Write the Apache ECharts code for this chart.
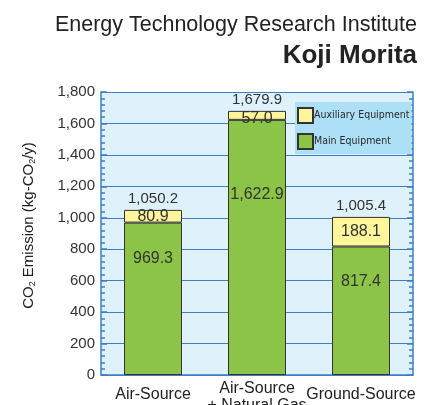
<!DOCTYPE html>
<html><head><meta charset="utf-8">
<script src="https://cdn.jsdelivr.net/npm/echarts@6/dist/echarts.min.js"></script>
<style>html,body{margin:0;padding:0;background:#fff}#c{width:435px;height:405px}</style>
</head><body><div id="c"></div>
<script>
const categories = ['Air-Source', 'Air-Source\n+ Natural Gas', 'Ground-Source'];
const mainEquipment = [969.3, 1622.9, 817.4];
const auxiliaryEquipment = [80.9, 57.0, 188.1];
const totals = [1050.2, 1679.9, 1005.4];
const yTicks = [0, 200, 400, 600, 800, 1000, 1200, 1400, 1600, 1800];

const fmt = v => v.toLocaleString('en-US', {minimumFractionDigits: 1, maximumFractionDigits: 1});
const fmtInt = v => v.toLocaleString('en-US');
const mainLabelDist = [28, 67, 27];
const auxLabelOffset = [[0, 0], [0, 3], [0, 0]];

const chart = echarts.init(document.getElementById('c'));
const blue = '#3d7fc4';
const font = 'Liberation Sans, Arial, sans-serif';
chart.setOption({
  animation: false,
  title: [
    {text: 'Energy Technology Research Institute', right: 13, top: 9,
     textStyle: {fontFamily: font, fontSize: 21.5, fontWeight: 'normal', color: '#222'}},
    {text: 'Koji Morita', right: 13, top: 38,
     textStyle: {fontFamily: font, fontSize: 26, fontWeight: 'bold', color: '#222'}}
  ],
  grid: {left: 101, right: 22, top: 92, bottom: 30, backgroundColor: '#dff1fa', show: true, borderWidth: 0,
         outerBoundsMode: 'none', containLabel: false},
  legend: {
    orient: 'vertical', left: 295, top: 102, itemWidth: 15, itemHeight: 15, itemGap: 9, icon: 'rect',
    backgroundColor: '#ade0f7', padding: [5, 2, 4, 2],
    data: ['Auxiliary Equipment', 'Main Equipment'],
    textStyle: {fontFamily: 'DejaVu Sans Condensed, sans-serif', fontSize: 10.5, color: '#2a2a2a', padding: [0, 0, 0, -4]}
  },
  xAxis: {
    type: 'category', data: categories,
    axisLine: {lineStyle: {color: blue, width: 1.5}},
    axisTick: {show: false},
    axisLabel: {interval: 0, fontFamily: font, fontSize: 16, color: '#222', margin: 5, lineHeight: 17,
      formatter: v => v.indexOf('\n') >= 0 ? v : '{s|' + v + '}',
      rich: {s: {fontFamily: font, fontSize: 16, color: '#222', lineHeight: 29}}}
  },
  yAxis: [
    {type: 'value', min: 0, max: 1800, interval: 200,
     name: '{a|CO}{s|2}{a| Emission (kg-CO}{s|2}{a|/y)}', nameLocation: 'middle', nameGap: 64, nameRotate: 90,
     nameTextStyle: {padding: [0, 0, 0, 16], rich: {a: {fontFamily: font, fontSize: 15, color: '#222'}, s: {fontFamily: font, fontSize: 9, color: '#222', padding: [8, 0, 0, 0]}}},
     axisLine: {show: true, lineStyle: {color: blue, width: 1.5}},
     axisTick: {show: true, inside: true, length: 6, lineStyle: {color: blue, width: 1.5}},
     minorTick: {show: true, splitNumber: 5, length: 4, lineStyle: {color: blue, width: 1.5}},
     splitLine: {show: true, lineStyle: {color: blue, width: 1}},
     axisLabel: {fontFamily: font, fontSize: 15, color: '#333', margin: 6, formatter: v => fmtInt(v)}},
    {type: 'value', min: 0, max: 1800, interval: 200, position: 'right',
     axisLine: {show: true, lineStyle: {color: blue, width: 1.5}},
     axisTick: {show: true, inside: true, length: 6, lineStyle: {color: blue, width: 1.5}},
     minorTick: {show: true, splitNumber: 5, length: 4, lineStyle: {color: blue, width: 1.5}},
     splitLine: {show: false}, axisLabel: {show: false}}
  ],
  series: [
    {name: 'Main Equipment', type: 'bar', stack: 't', barWidth: 58,
     itemStyle: {color: '#8cc447', borderColor: '#333', borderWidth: 1},
     data: mainEquipment.map((v, i) => ({value: v, label: {distance: mainLabelDist[i]}})),
     label: {show: true, position: 'insideTop', fontFamily: font, fontSize: 16, color: '#333', formatter: p => fmt(p.value)}},
    {name: 'Auxiliary Equipment', type: 'bar', stack: 't', barWidth: 58,
     itemStyle: {color: '#fff59a', borderColor: '#333', borderWidth: 1},
     data: auxiliaryEquipment.map((v, i) => ({value: v, label: {offset: auxLabelOffset[i]}})),
     label: {show: true, position: 'inside', fontFamily: font, fontSize: 16, color: '#333', formatter: p => fmt(p.value)}},
    {name: 'Total', type: 'scatter', symbolSize: 0, data: totals, silent: true,
     itemStyle: {opacity: 1, color: 'transparent'},
     label: {show: true, position: 'top', distance: 4, fontFamily: font, fontSize: 15, color: '#333', formatter: p => fmt(p.value)}}
  ]
});
</script></body></html>
